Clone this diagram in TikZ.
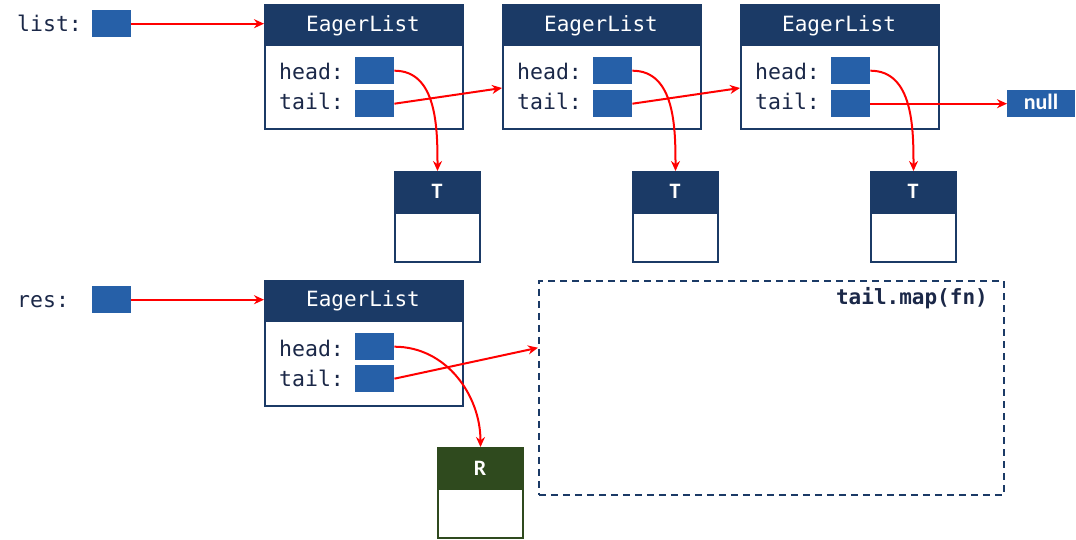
\documentclass[tikz,border=0pt]{standalone}
\usepackage{fontspec}
\setmonofont{DejaVu Sans Mono}
\newfontfamily\calfont{Carlito}
\usetikzlibrary{arrows.meta}
\definecolor{navy}{RGB}{27,58,102}
\definecolor{ptr}{RGB}{38,96,168}
\definecolor{ink}{RGB}{27,40,72}
\definecolor{grn}{RGB}{47,74,30}
\tikzset{
  lbl/.style={inner sep=0pt, anchor=base west, text=ink, font=\ttfamily\fontsize{21.5}{24}\selectfont},
  ptrbox/.style={fill=ptr, draw=none, inner sep=0pt, minimum width=39pt, minimum height=27pt, anchor=north west},
  objbox/.style={draw=navy, line width=2pt, fill=white, inner sep=0pt, minimum width=198pt, minimum height=124pt, anchor=north west},
  objhdr/.style={fill=navy, draw=navy, line width=2pt, inner sep=0pt, minimum width=198pt, minimum height=40pt, anchor=north west},
  hdrtxt/.style={inner sep=0pt, anchor=base, text=white, font=\ttfamily\fontsize{21}{24}\selectfont},
  valbox/.style={draw=#1, line width=2pt, fill=white, inner sep=0pt, minimum width=85pt, minimum height=90pt, anchor=north west},
  valhdr/.style={fill=#1, draw=#1, line width=2pt, inner sep=0pt, minimum width=85pt, minimum height=41pt, anchor=north west},
  valtxt/.style={inner sep=0pt, anchor=base, text=white, font=\calfont\bfseries\fontsize{22}{24}\selectfont},
  ref/.style={draw=red, line width=2pt, -{Stealth[length=10pt,width=9pt]}},
}
\begin{document}
\begin{tikzpicture}[x=1pt,y=-1pt]
\useasboundingbox (0,0) rectangle (1076,540);

% list pointer
\node[lbl] (listl) at (17,32) {list:};
\node[ptrbox] (listp) at (92,10) {};

% EagerList objects
\foreach \i/\x in {1/264,2/502,3/740}{
  \node[objbox] (L\i) at (\x,4) {};
  \node[objhdr] (L\i h) at (\x,4) {};
  \node[hdrtxt] (L\i t) at (\x+99,32) {EagerList};
  \node[lbl] (L\i hl) at (\x+15,80) {head:};
  \node[lbl] (L\i tl) at (\x+15,110) {tail:};
  \node[ptrbox] (H\i) at (\x+91,57) {};
  \node[ptrbox] (P\i) at (\x+91,90) {};
  \node[valbox=navy] (T\i) at (\x+130,171) {};
  \node[valhdr=navy] (T\i h) at (\x+130,171) {};
  \node[valtxt] (T\i t) at (\x+173,199) {T};
}
\node[fill=ptr, inner sep=0pt, minimum width=68pt, minimum height=27pt, anchor=north west] (null) at (1007,90) {};
\node[valtxt] (nullt) at (1041,110) {null};

% res
\node[lbl] (resl) at (17,307) {res:};
\node[ptrbox] (resp) at (92,286) {};
\node[objbox, minimum height=125pt] (LR) at (264,280) {};
\node[objhdr] (LRh) at (264,280) {};
\node[hdrtxt] (LRt) at (363,306) {EagerList};
\node[lbl] (LRhl) at (279,356) {head:};
\node[lbl] (LRtl) at (279,386) {tail:};
\node[ptrbox] (HR) at (355,333) {};
\node[ptrbox] (PR) at (355,365) {};
\node[valbox=grn] (R) at (437,447) {};
\node[valhdr=grn] (Rh) at (437,447) {};
\node[valtxt] (Rt) at (480,475) {R};

% dashed box
\node[draw=navy, line width=1.5pt, dash pattern=on 7pt off 5pt, inner sep=0pt, minimum width=465pt, minimum height=214pt, anchor=north west] (D) at (538,280) {};
\node[inner sep=0pt, anchor=base east, text=ink, font=\ttfamily\bfseries\fontsize{21}{24}\selectfont] (Dt) at (988,304) {tail.map(fn)};

% connectors
\draw[ref] (listp.east) -- (L1.west |- listp.east);
\draw[ref] (resp.east) -- (LR.west |- resp.east);
\draw[ref] (H1.east) to[out=0,in=90] (T1.north);
\draw[ref] (H2.east) to[out=0,in=90] (T2.north);
\draw[ref] (H3.east) to[out=0,in=90] (T3.north);
\draw[ref] (P1.east) -- ([yshift=-21pt]L2.west);
\draw[ref] (P2.east) -- ([yshift=-21pt]L3.west);
\draw[ref] (P3.east) -- (null.west);
\draw[ref] (HR.east) to[out=0,in=90] (R.north);
\draw[ref] (PR.east) -- ([yshift=40pt]D.west);
\end{tikzpicture}
\end{document}
